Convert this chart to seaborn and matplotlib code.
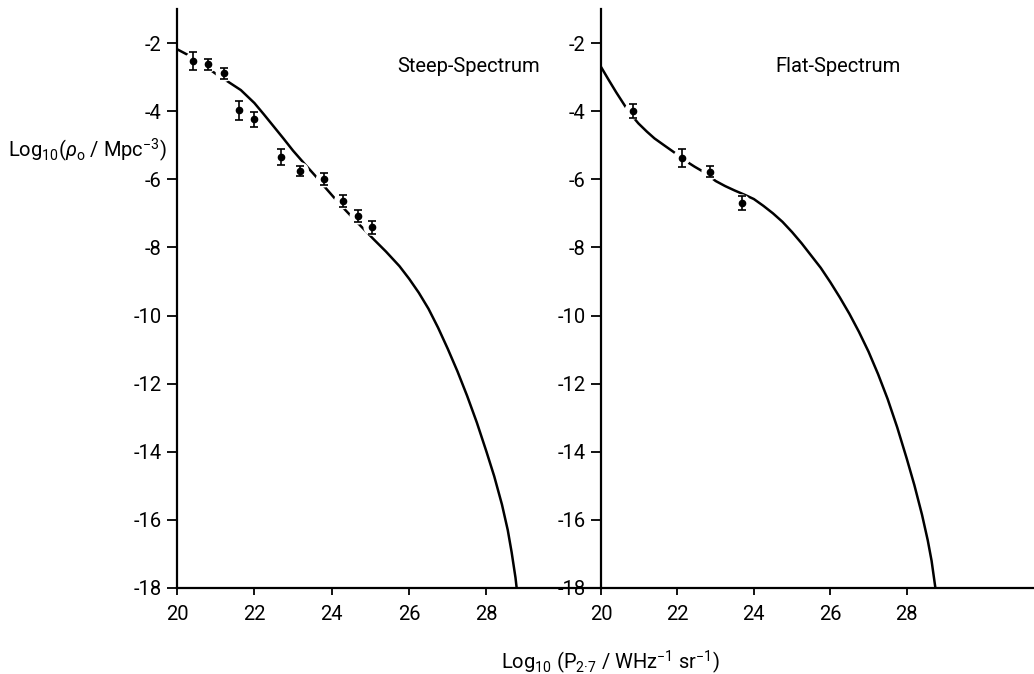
import numpy as np
import pandas as pd
import matplotlib
matplotlib.use("Agg")
import matplotlib.pyplot as plt
import seaborn as sns

# ---- data ----
steep_x = [20.42, 20.81, 21.22, 21.61, 22.00, 22.69, 23.19, 23.81, 24.28, 24.68, 25.04]
steep_y = [-2.52, -2.62, -2.89, -3.97, -4.24, -5.34, -5.75, -5.99, -6.63, -7.08, -7.41]
steep_err = [0.26, 0.16, 0.17, 0.28, 0.22, 0.24, 0.15, 0.17, 0.17, 0.18, 0.19]

steep_curve_x = [20.0, 20.25, 20.5, 20.75, 21.0, 21.3, 21.65, 22.0, 22.25, 22.5, 22.75, 23.0,
                 23.3, 23.6, 23.8, 24.0, 24.2, 24.4, 24.6, 24.8, 25.1, 25.4, 25.75, 26.0,
                 26.25, 26.5, 26.75, 27.0, 27.25, 27.5, 27.75, 28.0, 28.2, 28.4, 28.55,
                 28.65, 28.75, 28.78]
steep_curve_y = [-2.18, -2.33, -2.50, -2.70, -2.90, -3.12, -3.38, -3.76, -4.10, -4.45, -4.80, -5.16,
                 -5.55, -5.93, -6.20, -6.46, -6.72, -6.96, -7.20, -7.43, -7.78, -8.12, -8.55, -8.92,
                 -9.33, -9.80, -10.36, -10.98, -11.64, -12.36, -13.14, -14.00, -14.72, -15.55, -16.30,
                 -16.95, -17.70, -18.00]

flat_x = [20.83, 22.11, 22.85, 23.68]
flat_y = [-4.00, -5.37, -5.78, -6.69]
flat_err = [0.20, 0.27, 0.16, 0.20]

flat_curve_x = [20.0, 20.2, 20.4, 20.63, 20.8, 20.98, 21.2, 21.4, 21.65, 21.89, 22.1, 22.24,
                22.45, 22.68, 22.85, 23.0, 23.25, 23.5, 23.75, 24.0, 24.25, 24.5, 24.75, 25.0,
                25.25, 25.5, 25.75, 26.0, 26.25, 26.5, 26.75, 27.0, 27.25, 27.5, 27.75, 28.0,
                28.2, 28.4, 28.55, 28.65, 28.75]
flat_curve_y = [-2.70, -3.08, -3.45, -3.85, -4.12, -4.36, -4.60, -4.80, -5.00, -5.19, -5.36, -5.48,
                -5.63, -5.78, -5.92, -6.05, -6.20, -6.33, -6.45, -6.58, -6.78, -7.00, -7.25, -7.55,
                -7.88, -8.24, -8.60, -9.02, -9.47, -9.95, -10.48, -11.06, -11.72, -12.45, -13.28, -14.20,
                -14.98, -15.85, -16.60, -17.20, -18.00]

panel_titles = ["Steep-Spectrum", "Flat-Spectrum"]
x_ticks = [20, 22, 24, 26, 28]
y_ticks = [-2, -4, -6, -8, -10, -12, -14, -16, -18]

# ---- style ----
sns.set_theme(style="ticks")
plt.rcParams["font.family"] = ["Roboto", "DejaVu Sans"]
plt.rcParams["axes.unicode_minus"] = False
plt.rcParams["mathtext.fontset"] = "custom"
plt.rcParams["mathtext.rm"] = "Roboto"
plt.rcParams["mathtext.it"] = "Roboto:italic"
plt.rcParams["mathtext.bf"] = "Roboto:bold"

W, H = 1034, 674
fig = plt.figure(figsize=(W / 100, H / 100), dpi=100)
bottom = (H - 588) / H
height = (588 - 9) / H
ax1 = fig.add_axes([177 / W, bottom, 424 / W, height])
ax2 = fig.add_axes([601 / W, bottom, 433 / W, height])

panels = [
    (ax1, steep_x, steep_y, steep_err, steep_curve_x, steep_curve_y, (20, 30.96), 0.519),
    (ax2, flat_x, flat_y, flat_err, flat_curve_x, flat_curve_y, (20, 31.33), 0.402),
]

for i, (ax, px, py, pe, cx, cy, xlim, tx) in enumerate(panels):
    curve = pd.DataFrame({"x": cx, "y": cy})
    pts = pd.DataFrame({"x": px, "y": py, "e": pe})
    sns.lineplot(data=curve, x="x", y="y", ax=ax, color="black", lw=1.8,
                 estimator=None, sort=False, zorder=2)
    # white halo around each point breaks the curve, as in the original
    sns.scatterplot(data=pts, x="x", y="y", ax=ax, color="white", s=150,
                    edgecolor="none", zorder=3)
    ax.errorbar(pts["x"], pts["y"], yerr=pts["e"], fmt="o", color="black",
                ms=4.5, elinewidth=1.2, capsize=3, capthick=1.2, zorder=4)
    ax.set_xlim(*xlim)
    ax.set_ylim(-18, -1.0)
    ax.set_xticks(x_ticks)
    ax.set_yticks(y_ticks)
    ax.set_xticklabels([str(t) for t in x_ticks])
    ax.set_yticklabels([str(t) for t in y_ticks])
    ax.tick_params(axis="x", direction="out", length=5, width=1.3, pad=7, labelsize=14.5, colors="black")
    ax.tick_params(axis="y", direction="out", length=7, width=1.3, pad=4, labelsize=14.5, colors="black")
    ax.set_xlabel("")
    ax.set_ylabel("")
    for s in ["top", "right"]:
        ax.spines[s].set_visible(False)
    for s in ["left", "bottom"]:
        ax.spines[s].set_linewidth(1.6)
        ax.spines[s].set_color("black")
    ax.text(tx, 0.90, panel_titles[i], transform=ax.transAxes, ha="left", va="center",
            fontsize=14.5, color="black")
    ax.set_facecolor("white")

fig.text(8 / W, (H - 150) / H, r"Log$_{10}$($\rho_{\mathregular{o}}$ / Mpc$^{-3}$)",
         ha="left", va="center", fontsize=14.5, color="black")
fig.text(610 / W, (H - 662) / H, r"Log$_{10}$ (P$_{\mathregular{2·7}}$ / WHz$^{-1}$ sr$^{-1}$)",
         ha="center", va="center", fontsize=14.5, color="black")

fig.savefig("out.png", dpi=100, facecolor="white")
